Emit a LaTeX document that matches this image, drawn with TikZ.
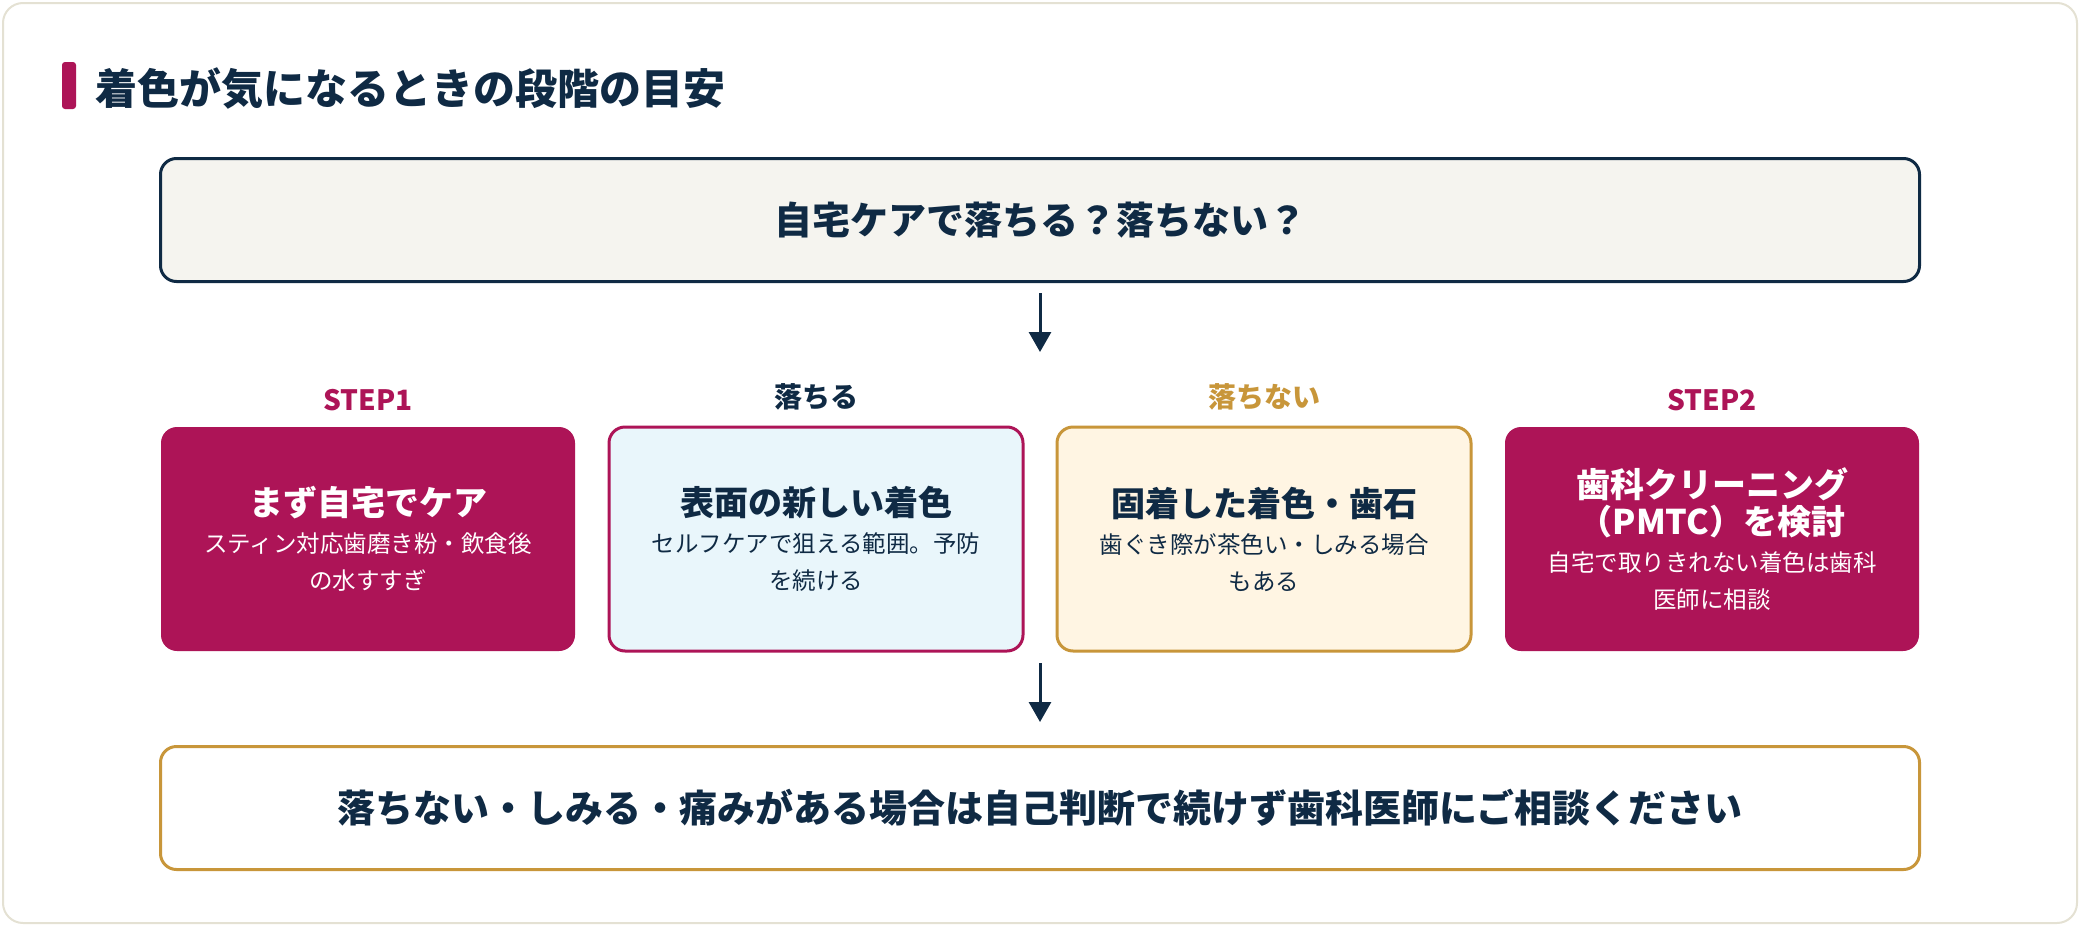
\documentclass[tikz,border=0pt]{standalone}
\usepackage{fontspec}
\setmainfont{Noto Sans CJK JP}
\usetikzlibrary{arrows.meta,positioning}
\definecolor{navy}{HTML}{0F2A44}
\definecolor{crimson}{HTML}{AD1457}
\definecolor{gold}{HTML}{C8963A}
\definecolor{paper}{HTML}{F5F4EF}
\definecolor{skyfill}{HTML}{E9F6FB}
\definecolor{creamfill}{HTML}{FFF5E3}
\definecolor{cardline}{HTML}{E4E1D3}
\newcommand{\stephead}{\bfseries\fontsize{34}{49}\selectfont}
\tikzset{
  wide/.style={draw=navy, line width=3pt, rounded corners=16pt, minimum width=1759pt,
    minimum height=123pt, font=\bfseries\fontsize{38}{44}\selectfont, text=navy},
  stepbox/.style={rounded corners=16pt, minimum width=414pt, minimum height=224pt,
    align=center, text width=390pt, font=\fontsize{23.5}{37}\selectfont},
  head/.style={font=\bfseries\fontsize{28}{32}\selectfont},
  down/.style={line width=3pt, draw=navy, -{Triangle[width=22pt,length=20pt]}}
}
\begin{document}
\begin{tikzpicture}[x=1pt,y=-1pt]
    % card
    \useasboundingbox (0,0) rectangle (2080,926);
    \draw[cardline, line width=2pt, fill=white, rounded corners=20pt] (3,3) rectangle (2077,923);

    % title
    \fill[crimson, rounded corners=3pt] (62,62) rectangle (76,109);
    \node[anchor=west, text=navy, font=\bfseries\fontsize{42}{46}\selectfont] (title) at (92,88) {着色が気になるときの段階の目安};

    % question
    \node[wide, fill=paper] (ask) at (1040,220) {自宅ケアで落ちる？落ちない？};

    % four steps
    \node[stepbox, fill=crimson, text=white] (home) at (368,539)
        {{\stephead まず自宅でケア}\\スティン対応歯磨き粉・飲食後\\の水すすぎ};
    \node[stepbox, fill=skyfill, draw=crimson, line width=3pt, text=navy] (surface) at (816,539)
        {{\stephead 表面の新しい着色}\\セルフケアで狙える範囲。予防\\を続ける};
    \node[stepbox, fill=creamfill, draw=gold, line width=3pt, text=navy] (fixed) at (1264,539)
        {{\stephead 固着した着色・歯石}\\歯ぐき際が茶色い・しみる場合\\もある};
    \node[stepbox, fill=crimson, text=white] (clinic) at (1712,539)
        {{\stephead 歯科クリーニング\\（PMTC）を検討}\\自宅で取りきれない着色は歯科\\医師に相談};

    \node[head, text=crimson, above=12pt of home] (lbl1) {STEP1};
    \node[head, text=navy, above=12pt of surface] (lbl2) {落ちる};
    \node[head, text=gold, above=12pt of fixed] (lbl3) {落ちない};
    \node[head, text=crimson, above=12pt of clinic] (lbl4) {STEP2};

    % advice
    \node[wide, draw=gold, fill=white] (advice) at (1040,808)
        {落ちない・しみる・痛みがある場合は自己判断で続けず歯科医師にご相談ください};

    % arrows
    \coordinate (a1) at (1040,293);
    \coordinate (b1) at (1040,352);
    \coordinate (a2) at (1040,663);
    \coordinate (b2) at (1040,722);
    \draw[down] (a1) -- (b1);
    \draw[down] (a2) -- (b2);
\end{tikzpicture}
\end{document}
